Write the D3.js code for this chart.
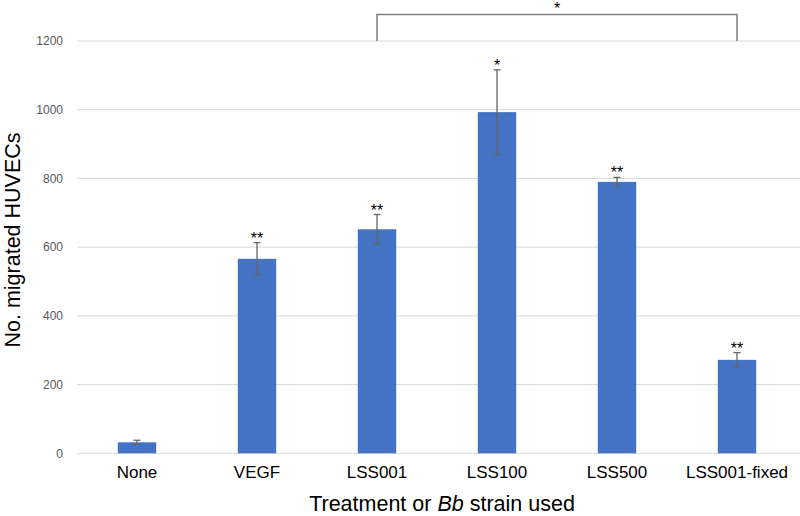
<!DOCTYPE html>
<html><head><meta charset="utf-8">
<script src="https://cdn.jsdelivr.net/npm/d3@7"></script>
<style>body{margin:0;background:#fff}svg{display:block;font-family:"Liberation Sans",Arial,sans-serif}</style>
</head><body><svg id="c" width="800" height="516"></svg>
<script>
const categories = ["None","VEGF","LSS001","LSS100","LSS500","LSS001-fixed"];
const values = [32, 566, 652, 993, 790, 272];
const errors = [6, 47, 43, 123, 13, 21];
const stars = ["", "**", "**", "*", "**", "**"];
const yTicks = [0, 200, 400, 600, 800, 1000, 1200];
const bracket = {from: "LSS001", to: "LSS001-fixed", level: 1277, label: "*"};

const svg = d3.select("#c");
const x = d3.scaleBand().domain(categories).range([77, 797]).paddingInner(0.68).paddingOuter(0.34);
const y = d3.scaleLinear().domain([0, 1200]).range([453.3, 41]);

// gridlines
svg.append("g").selectAll("line").data(yTicks).join("line")
  .attr("x1", 77).attr("x2", 800)
  .attr("y1", d => y(d)).attr("y2", d => y(d))
  .attr("stroke", "#d9d9d9").attr("stroke-width", 1);

// y tick labels
const yAxis = d3.axisLeft(y).tickValues(yTicks).tickFormat(d3.format("d")).tickSize(0).tickPadding(0);
const gy = svg.append("g").attr("transform", "translate(63,0)").call(yAxis);
gy.select(".domain").remove();
gy.selectAll("text").attr("font-size", 12).attr("fill", "#595959").attr("font-family", "Liberation Sans, Arial, sans-serif");

// bars
svg.append("g").selectAll("rect").data(categories).join("rect")
  .attr("x", d => x(d)).attr("width", x.bandwidth())
  .attr("y", (d,i) => y(values[i])).attr("height", (d,i) => y(0) - y(values[i]))
  .attr("fill", "#4472C4");

// error bars
const eg = svg.append("g").attr("stroke", "#666").attr("stroke-width", 1.3);
categories.forEach((c,i) => {
  const cx = x(c) + x.bandwidth()/2;
  const t = y(values[i] + errors[i]), b = y(values[i] - errors[i]);
  eg.append("line").attr("x1", cx).attr("x2", cx).attr("y1", t).attr("y2", b);
  eg.append("line").attr("x1", cx-3.5).attr("x2", cx+3.5).attr("y1", t).attr("y2", t);
  eg.append("line").attr("x1", cx-3.5).attr("x2", cx+3.5).attr("y1", b).attr("y2", b);
});

// significance stars
svg.append("g").selectAll("text").data(categories).join("text")
  .attr("x", d => x(d) + x.bandwidth()/2)
  .attr("y", (d,i) => y(values[i] + errors[i]) + 1)
  .attr("text-anchor", "middle").attr("font-size", 16).attr("fill", "#000")
  .text((d,i) => stars[i]);

// bracket
const bx1 = x(bracket.from) + x.bandwidth()/2, bx2 = x(bracket.to) + x.bandwidth()/2;
svg.append("path")
  .attr("d", `M${bx1},${y(1200)}V${y(bracket.level)}H${bx2}V${y(1200)}`)
  .attr("fill", "none").attr("stroke", "#7f7f7f").attr("stroke-width", 1.5);
svg.append("text").attr("x", (bx1+bx2)/2).attr("y", y(bracket.level) - 0.5)
  .attr("text-anchor", "middle").attr("font-size", 16).text(bracket.label);

// x labels
const xAxis = d3.axisBottom(x).tickSize(0).tickPadding(0);
const gx = svg.append("g").attr("transform", "translate(0,466)").call(xAxis);
gx.select(".domain").remove();
gx.selectAll("text").attr("font-size", 17).attr("fill", "#000").attr("dy", "0.71em").attr("font-family", "Liberation Sans, Arial, sans-serif");

// axis titles
const xt = svg.append("text").attr("x", 442).attr("y", 511).attr("text-anchor", "middle")
  .attr("font-size", 21.5).attr("fill", "#000");
xt.append("tspan").text("Treatment or ");
xt.append("tspan").attr("font-style", "italic").text("Bb");
xt.append("tspan").text(" strain used");

svg.append("text").attr("transform", "translate(20,240) rotate(-90)")
  .attr("text-anchor", "middle").attr("font-size", 21.5).attr("fill", "#000")
  .text("No. migrated HUVECs");
</script></body></html>
